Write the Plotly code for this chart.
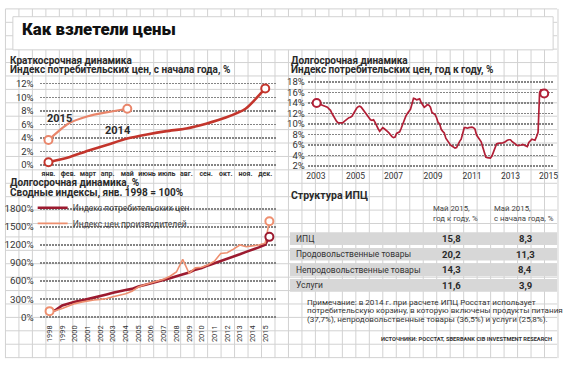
import plotly.graph_objects as go

W, H = 570, 367
def px(x): return x / W
def py(y): return 1 - y / H

FONT = "Roboto"

# ---------------- data ----------------
months = ["янв.", "фев.", "март", "апр.", "май", "июнь", "июль", "авг.", "сен.", "окт.", "ноя.", "дек."]
cpi_ytd_2014 = [0.4, 1.1, 2.1, 3.0, 3.9, 4.5, 5.0, 5.4, 6.1, 7.0, 8.3, 11.3]
cpi_ytd_2015 = [3.7, 6.1, 7.2, 7.8, 8.3]

# CPI year-on-year, monthly Jan 2003 .. May 2015
cpi_yoy = [
    14.0, 13.9, 13.8, 13.7, 13.6, 13.5, 13.4, 13.2, 12.9, 12.6, 12.0, 11.4,
    10.8, 10.5, 10.2, 10.2, 10.1, 10.2, 10.5, 10.8, 11.1, 11.2, 11.3, 11.5,
    12.0, 12.6, 13.0, 13.3, 13.4, 13.2, 12.8, 12.3, 12.0, 11.6, 11.0, 10.8,
    10.7, 10.8, 10.3, 9.6, 9.1, 8.6, 8.9, 9.3, 9.1, 8.9, 8.6, 8.3,
    7.9, 7.6, 7.4, 7.5, 8.2, 8.4, 8.5, 9.2, 10.0, 11.0, 11.5, 12.0,
    12.4, 12.8, 13.8, 14.9, 14.8, 14.6, 14.7, 14.8, 14.1, 13.6, 13.2, 13.4,
    13.7, 13.6, 13.2, 12.2, 12.0, 11.8, 11.2, 10.3, 10.0, 9.0, 8.6, 8.3,
    7.3, 6.8, 6.3, 6.0, 5.8, 5.6, 5.4, 5.5, 6.3, 6.7, 7.1, 8.2,
    9.3, 9.3, 9.2, 9.3, 9.4, 9.4, 9.3, 9.0, 7.9, 7.4, 7.0, 6.6,
    5.6, 4.5, 3.7, 3.6, 3.5, 3.5, 3.9, 4.8, 5.6, 6.2, 6.3, 6.3,
    6.3, 6.4, 6.5, 6.8, 6.9, 7.0, 7.0, 6.7, 6.4, 6.2, 6.0, 5.9,
    5.9, 6.0, 6.1, 6.0, 5.8, 5.7, 6.5, 6.9, 7.1, 7.0, 6.9, 7.6,
    8.4, 16.0, 16.6, 16.1, 15.8,
]
yoy_tick_labels = ["2003", "2005", "2007", "2009", "2011", "2013", "2015"]
yoy_tick_pos = [-0.5, 25.3, 50.0, 75.7, 101.0, 126.1, 150.8]

# Cumulative indices, Jan 1998 = 100 (half-yearly, last = May 2015)
idx_dates = [f"{y}-{m:02d}-01" for y in range(1998, 2015) for m in (1, 7)] + ["2015-01-01", "2015-05-01"]
cpi_index = [100, 120, 195, 230, 255, 275, 298, 325, 352, 378, 405, 432, 452, 470, 510, 535, 560, 590,
             615, 645, 680, 715, 742, 790, 815, 860, 895, 935, 965, 1000, 1045, 1085, 1120, 1160, 1205, 1335]
ppi_index = [100, 110, 145, 185, 225, 250, 270, 285, 295, 310, 340, 360, 390, 430, 500, 540, 570, 600,
             630, 680, 750, 960, 730, 820, 830, 870, 930, 1060, 1070, 1130, 1200, 1170, 1180, 1200, 1230, 1595]
index_years = list(range(1998, 2016))

ytd_ticks = list(range(0, 13, 2))
yoy_ticks = list(range(2, 19, 2))
idx_ticks = list(range(0, 1801, 300))

table_rows = ["ИПЦ", "Продовольственные товары", "Непродовольственные товары", "Услуги"]
table_yoy = [15.8, 20.2, 14.3, 11.6]
table_ytd = [8.3, 11.3, 8.4, 3.9]

# ---------------- colours ----------------
C2014 = "#c3352c"
C2015 = "#e9866b"
CYOY = "#b11f36"
CCPI = "#9c1a2f"
CPPI = "#ee8f6f"
GRID_BG = "#d2d2d2"
GRID = "#858585"
TXT = "#2a2a2a"

fig = go.Figure()

def hollow(x, y, color, xa, ya, size=8):
    return go.Scatter(x=[x[0], x[-1]], y=[y[0], y[-1]], mode="markers", xaxis=xa, yaxis=ya,
                      marker=dict(symbol="circle", size=size, color="white", line=dict(color=color, width=2)),
                      showlegend=False, hoverinfo="skip", cliponaxis=False)

# top-left
fig.add_trace(go.Scatter(x=months, y=cpi_ytd_2014, mode="lines", line=dict(color=C2014, width=2.6, shape="spline", smoothing=0.6),
                         xaxis="x", yaxis="y", showlegend=False))
fig.add_trace(go.Scatter(x=months[:len(cpi_ytd_2015)], y=cpi_ytd_2015, mode="lines",
                         line=dict(color=C2015, width=2.2, shape="spline", smoothing=0.6),
                         xaxis="x", yaxis="y", showlegend=False))
fig.add_trace(hollow(months, cpi_ytd_2014, C2014, "x", "y"))
fig.add_trace(hollow(months[:len(cpi_ytd_2015)], cpi_ytd_2015, C2015, "x", "y"))

# top-right
yoy_x = list(range(len(cpi_yoy)))
fig.add_trace(go.Scatter(x=yoy_x, y=cpi_yoy, mode="lines", line=dict(color=CYOY, width=1.7),
                         xaxis="x2", yaxis="y2", showlegend=False))
fig.add_trace(hollow(yoy_x, cpi_yoy, CYOY, "x2", "y2"))

# bottom-left
fig.add_trace(go.Scatter(x=idx_dates, y=cpi_index, mode="lines", name="Индекс потребительских цен",
                         line=dict(color=CCPI, width=2.6), xaxis="x3", yaxis="y3", legend="legend"))
fig.add_trace(go.Scatter(x=idx_dates, y=ppi_index, mode="lines", name="Индекс цен производителей",
                         line=dict(color=CPPI, width=1.6), xaxis="x3", yaxis="y3", legend="legend2"))
fig.add_trace(go.Scatter(x=[idx_dates[-1]], y=[cpi_index[-1]], mode="markers", xaxis="x3", yaxis="y3",
                         marker=dict(size=8, color="white", line=dict(color=CCPI, width=2)),
                         showlegend=False, hoverinfo="skip", cliponaxis=False))
fig.add_trace(hollow(idx_dates, ppi_index, CPPI, "x3", "y3"))

# ---------------- shapes: background grid, title box, table bars ----------------
shapes = []
gx = 4.5
while gx <= 563:
    shapes.append(dict(type="line", xref="paper", yref="paper", x0=px(gx), x1=px(gx), y0=py(4), y1=py(362),
                       line=dict(color=GRID_BG, width=1), layer="below"))
    gx += 13.62
gy = 4.0
while gy <= 363:
    shapes.append(dict(type="line", xref="paper", yref="paper", x0=px(4.5), x1=px(562), y0=py(gy), y1=py(gy),
                       line=dict(color=GRID_BG, width=1), layer="below"))
    gy += 13.75
shapes.append(dict(type="rect", xref="paper", yref="paper", x0=px(12), x1=px(558), y0=py(46), y1=py(12),
                   fillcolor="white", line=dict(color=GRID_BG, width=1), layer="below"))
for i in range(len(table_rows)):
    top = 233 + 16 * i
    shapes.append(dict(type="rect", xref="paper", yref="paper", x0=px(292), x1=px(562), y0=py(top + 13), y1=py(top),
                       fillcolor="#d7d7d7", line=dict(width=0), layer="below"))

# ---------------- annotations ----------------
ann = []
def txt(x, y, s, size=9, bold=False, anchor="left", color=TXT, weight=None):
    w = weight if weight else (700 if bold else 400)
    ann.append(dict(x=px(x), y=py(y), xref="paper", yref="paper", text=s, showarrow=False,
                    xanchor=anchor, yanchor="middle", align=anchor if anchor != "center" else "center",
                    borderpad=0, font=dict(size=size, color=color, family=FONT, weight=w)))

txt(20, 25, "Как взлетели цены", size=16.8, color="#111", weight=900)
txt(8, 57, "Краткосрочная динамика", size=10, bold=True)
txt(8, 67, "Индекс потребительских цен, с начала года, %", size=10, bold=True)
txt(292, 57, "Долгосрочная динамика", size=10, bold=True)
txt(292, 67, "Индекс потребительских цен, год к году, %", size=10, bold=True)
txt(8, 182, "Долгосрочная динамика, %", size=10, bold=True)
txt(8, 193, "Сводные индексы, янв. 1998 = 100%", size=10, bold=True)
txt(45, 116, "2015", size=11, bold=True)
txt(104, 129, "2014", size=11, bold=True)

txt(292, 195, "Структура ИПЦ", size=10.5, bold=True)
txt(436, 209, "Май 2015,", size=7.8, color="#444")
txt(436, 219, "год к году, %", size=7.8, color="#444")
txt(497, 209, "Май 2015,", size=7.8, color="#444")
txt(497, 219, "с начала года, %", size=7.8, color="#444")
for i, name in enumerate(table_rows):
    yc = 239.5 + 16 * i
    txt(297, yc, name, size=8.5, color="#333")
    txt(455, yc, f"{table_yoy[i]:.1f}".replace(".", ","), size=9.5, bold=True, anchor="center")
    txt(530, yc, f"{table_ytd[i]:.1f}".replace(".", ","), size=9.5, bold=True, anchor="center")

txt(308, 304.5, "Примечание: в 2014 г. при расчете ИПЦ Росстат использует", size=8.1, color="#333")
txt(308, 313, "потребительскую корзину, в которую включены продукты питания", size=8.1, color="#333")
txt(308, 321.5, "(37,7%), непродовольственные товары (36,5%) и услуги (25,8%).", size=8.1, color="#333")
txt(558, 342, "ИСТОЧНИКИ: РОССТАТ, SBERBANK CIB INVESTMENT RESEARCH", size=5.7, bold=True, anchor="right", color="#333")

# ---------------- axes ----------------
def yax(ticks_list, **kw):
    d = dict(showgrid=True, gridcolor=GRID, gridwidth=1.4, griddash="2px,1px", zeroline=False,
             showline=False, ticks="", tickfont=dict(size=9.5, color="#333", family=FONT),
             tickmode="array", tickvals=ticks_list, ticktext=[f"{v}%" for v in ticks_list])
    d.update(kw)
    return d

def xax(**kw):
    d = dict(showgrid=False, zeroline=False, showline=False, ticks="", tickangle=0,
             tickfont=dict(size=8, color="#333", family=FONT))
    d.update(kw)
    return d

def leg(top):
    return dict(x=px(32), y=py(top), xanchor="left", yanchor="top", bgcolor="rgba(0,0,0,0)",
                font=dict(size=8.5, color="#444", family=FONT), itemwidth=30, tracegroupgap=0)

fig.update_layout(
    width=W, height=H, margin=dict(l=0, r=0, t=0, b=0),
    paper_bgcolor="white", plot_bgcolor="rgba(0,0,0,0)",
    font=dict(family=FONT, color=TXT),
    shapes=shapes, annotations=ann,
    xaxis=xax(domain=[px(39), px(278)], type="category", categoryorder="array",
              categoryarray=months, range=[-0.45, 11.55], anchor="y",
              tickfont=dict(size=7, color="#333", family=FONT, weight=700), ticklabelstandoff=2),
    yaxis=yax(ytd_ticks, domain=[py(165.4), py(79.3)], range=[-0.2, 12.2], anchor="x", ticklabelstandoff=5),
    xaxis2=xax(domain=[px(310), px(558)], range=[-5.8, 153.8], tickmode="array", tickvals=yoy_tick_pos,
               ticktext=yoy_tick_labels, anchor="y2", ticklabelstandoff=2,
               tickfont=dict(size=8.5, color="#333", family=FONT)),
    yaxis2=yax(yoy_ticks, domain=[py(166.1), py(77.9)], range=[1.8, 18.2], anchor="x2", ticklabelstandoff=2),
    xaxis3=xax(domain=[px(39), px(278)], type="date", range=["1997-03-20", "2015-11-10"], tickmode="array",
               tickvals=[f"{y}-01-01" for y in index_years], ticktext=[str(y) for y in index_years],
               tickangle=-90, anchor="y3", ticklabelstandoff=4,
               tickfont=dict(size=7.4, color="#333", family=FONT)),
    yaxis3=yax(idx_ticks, domain=[py(321.85), py(207.15)], range=[-30, 1830], anchor="x3", ticklabelstandoff=5,
               tickfont=dict(size=9.8, color="#333", family=FONT)),
    legend=leg(193),
    legend2=leg(209),
    hovermode=False,
)

fig.write_html("out.html", config={"displayModeBar": False, "staticPlot": True},
               post_script="document.body.style.margin='0';document.body.style.padding='0';")
